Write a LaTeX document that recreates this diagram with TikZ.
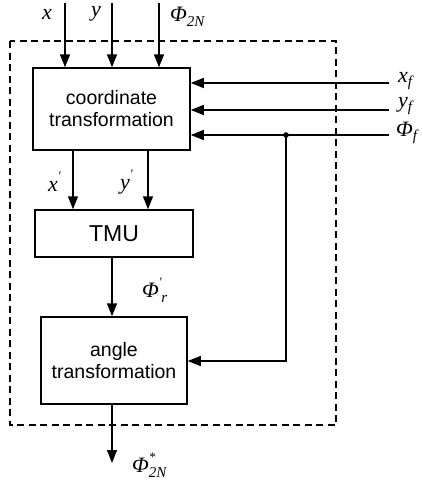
\documentclass[tikz,border=0pt]{standalone}
\usepackage{fontspec}
\setmainfont{Liberation Sans}
\newfontfamily\lserif{Liberation Serif}
\usetikzlibrary{arrows.meta}
\newcommand{\lsub}[1]{\raisebox{-0.45ex}{\fontsize{15}{15}\selectfont #1}}
\newcommand{\lsup}[1]{\raisebox{1.1ex}{\fontsize{13}{13}\selectfont #1}}
\begin{document}
\begin{tikzpicture}[x=1pt,y=-1pt,
  blk/.style={draw,line width=1.5pt,rectangle,inner sep=0pt,align=center,font=\fontsize{19.5}{22}\selectfont},
  conn/.style={line width=1.5pt,-{Triangle[length=13pt,width=10pt]}},
  lbl/.style={font=\lserif\itshape\fontsize{22}{22}\selectfont,inner sep=0pt}]
\useasboundingbox (0,0) rectangle (422,485);
\draw[dashed,line width=1.2pt,dash pattern=on 7pt off 4.5pt] (10,41) rectangle (336,425);
\node[blk,minimum width=157,minimum height=82] (ct) at (111.5,109) {coordinate\\transformation};
\node[blk,minimum width=158,minimum height=47,font=\fontsize{23}{23}\selectfont] (tmu) at (114,233.5) {TMU};
\node[blk,minimum width=146,minimum height=87] (at) at (114,360.5) {angle\\transformation};
% top inputs
\coordinate (ix) at (65,3);
\coordinate (iy) at (112,3);
\coordinate (ip) at (159,3);
\draw[conn] (ix) -- (ix |- ct.north);
\draw[conn] (iy) -- (iy |- ct.north);
\draw[conn] (ip) -- (ip |- ct.north);
\node[lbl] (lx) at (47,14) {x};
\node[lbl] (ly) at (96,14) {y};
\node[lbl,anchor=west] (lp) at (170,17) {Φ\lsub{2N}};
% right inputs
\coordinate (rx) at (389,83);
\coordinate (ry) at (389,110);
\coordinate (rp) at (389,135);
\coordinate (jn) at (286,135);
\coordinate (jd) at (286,361);
\draw[conn] (rx) -- (rx -| ct.east);
\draw[conn] (ry) -- (ry -| ct.east);
\draw[conn] (rp) -- (rp -| ct.east);
\fill (jn) circle (2.8pt);
\draw[conn] (jn) -- (jd) -- (jd -| at.east);
\node[lbl,anchor=west] (lxf) at (398,81) {x\lsub{f}};
\node[lbl,anchor=west] (lyf) at (398,106) {y\lsub{f}};
\node[lbl,anchor=west] (lpf) at (396,133) {Φ\lsub{f}};
% ct -> tmu
\coordinate (ox) at (73,150);
\coordinate (oy) at (148,150);
\draw[conn] (ox) -- (ox |- tmu.north);
\draw[conn] (oy) -- (oy |- tmu.north);
\node[lbl,anchor=west] (lxp) at (48,182) {x\lsup{'}};
\node[lbl,anchor=west] (lyp) at (120,182) {y\lsup{'}};
% tmu -> at
\coordinate (tm) at (112,257);
\draw[conn] (tm) -- (tm |- at.north);
\node[lbl,anchor=west] (lpr) at (142,293) {Φ\raisebox{0pt}[0pt][0pt]{\makebox[0pt][l]{\lsup{'}}}\lsub{\,r}};
% output
\coordinate (ao) at (112,404);
\coordinate (oe) at (112,463);
\draw[conn] (ao) -- (oe);
\node[lbl,anchor=west] (lo) at (132,468) {Φ\raisebox{0pt}[0pt][0pt]{\makebox[0pt][l]{\lsup{*}}}\lsub{2N}};
\end{tikzpicture}
\end{document}
